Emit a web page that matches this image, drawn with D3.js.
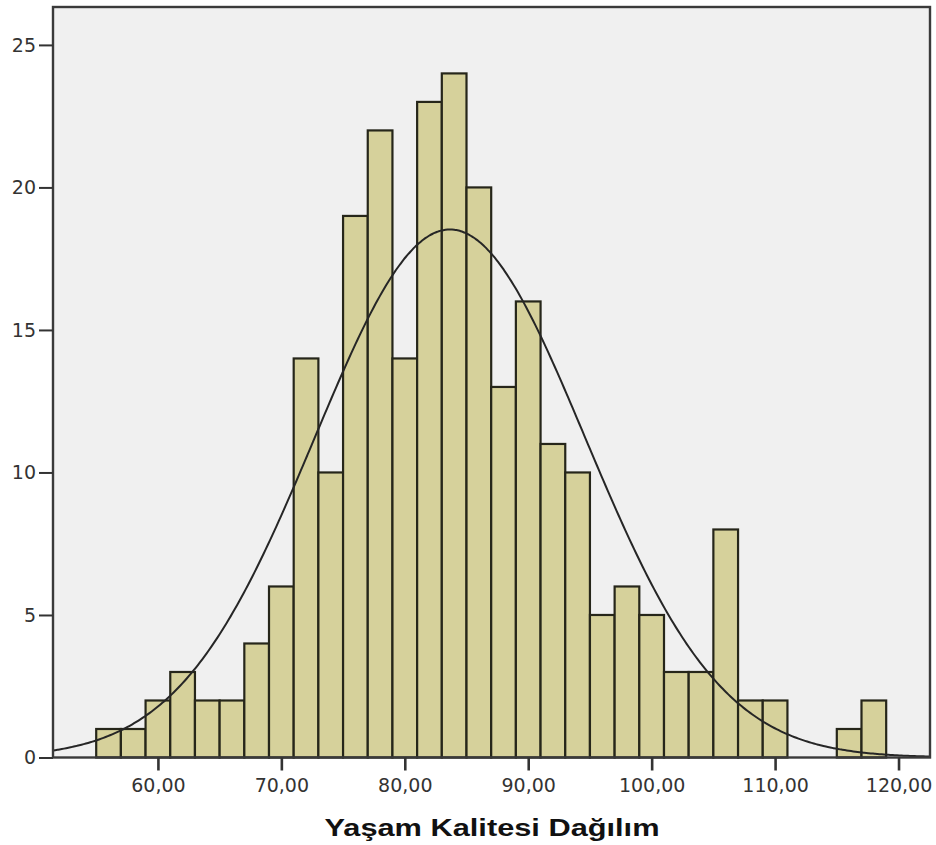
<!DOCTYPE html>
<html>
<head>
<meta charset="utf-8">
<script src="https://cdnjs.cloudflare.com/ajax/libs/d3/7.8.5/d3.min.js"></script>
<style>
  body { margin: 0; background: #ffffff; }
  svg { display: block; }
</style>
</head>
<body>
<div id="chart"></div>
<script>
// bin lower edges (width 2) and counts
var binStarts = [55, 57, 59, 61, 63, 65, 67, 69, 71, 73, 75, 77, 79, 81, 83, 85, 87, 89, 91, 93, 95, 97, 99, 101, 103, 105, 107, 109, 111, 113, 115, 117];
var counts = [1, 1, 2, 3, 2, 2, 4, 6, 14, 10, 19, 22, 14, 23, 24, 20, 13, 16, 11, 10, 5, 6, 5, 3, 3, 8, 2, 2, 0, 0, 1, 2];
var binWidth = 2;

var xTicks = [60, 70, 80, 90, 100, 110, 120];
var yTicks = [0, 5, 10, 15, 20, 25];

// fitted normal curve parameters
var curveMean = 83.66;
var curveSd = 10.94;

var axisTitle = "Yaşam Kalitesi Dağılım";

var svgWidth = 936;
var svgHeight = 845;

var plot = { left: 53, right: 930, top: 7, bottom: 757.5 };

var svg = d3.select("#chart")
.append("svg")
.attr("width", svgWidth)
.attr("height", svgHeight);

var xScale = d3.scaleLinear()
.domain([51.5, 122.55])
.range([plot.left, plot.right]);

var yScale = d3.scaleLinear()
.domain([0, 26.33])
.range([plot.bottom, plot.top]);

// background of the plot area
svg.append("rect")
.attr("x", plot.left)
.attr("y", plot.top)
.attr("width", plot.right - plot.left)
.attr("height", plot.bottom - plot.top)
.attr("fill", "#f0f0f0");

var bins = binStarts.map(function(b, i) {
    return { x0: b, x1: b + binWidth, count: counts[i] };
}).filter(d => d.count > 0);

svg.append("g")
.selectAll("rect")
.data(bins)
.enter()
.append("rect")
.attr("x", d => xScale(d.x0))
.attr("y", d => yScale(d.count))
.attr("width", d => xScale(d.x1) - xScale(d.x0))
.attr("height", d => yScale(0) - yScale(d.count))
.attr("fill", "#d6d19b")
.attr("stroke", "#26261a")
.attr("stroke-width", 2.2);

// normal curve scaled to counts
var total = d3.sum(counts);
var curvePoints = d3.range(0, 401).map(function(i) {
    var x = 51.5 + (122.55 - 51.5) * i / 400;
    var z = (x - curveMean) / curveSd;
    var y = total * binWidth / (curveSd * Math.sqrt(2 * Math.PI)) * Math.exp(-0.5 * z * z);
    return [x, y];
});

var line = d3.line()
.x(d => xScale(d[0]))
.y(d => yScale(d[1]))
.curve(d3.curveBasis);

svg.append("path")
.datum(curvePoints)
.attr("d", line)
.attr("fill", "none")
.attr("stroke", "#262626")
.attr("stroke-width", 2);

// frame
svg.append("rect")
.attr("x", plot.left)
.attr("y", plot.top)
.attr("width", plot.right - plot.left)
.attr("height", plot.bottom - plot.top)
.attr("fill", "none")
.attr("stroke", "#3a3a3a")
.attr("stroke-width", 2.4);

var leftAxis = d3.axisLeft(yScale)
.tickValues(yTicks)
.tickSize(14)
.tickPadding(3)
.tickFormat(d3.format("d"));

var yAxis = svg.append("g")
.attr("transform", `translate(${plot.left},0)`)
.call(leftAxis);

yAxis.select(".domain").remove();
yAxis.selectAll(".tick line")
.attr("stroke", "#333")
.attr("stroke-width", 2);
yAxis.selectAll("text")
.attr("font-family", "DejaVu Sans, sans-serif")
.attr("font-size", "19px")
.attr("fill", "#333");

var bottomAxis = d3.axisBottom(xScale)
.tickValues(xTicks)
.tickSize(13)
.tickPadding(8)
.tickFormat(d => d3.format(".2f")(d).replace(".", ","));

var xAxis = svg.append("g")
.attr("transform", `translate(0,${plot.bottom})`)
.call(bottomAxis);

xAxis.select(".domain").remove();
xAxis.selectAll(".tick line")
.attr("stroke", "#333")
.attr("stroke-width", 2.6);
xAxis.selectAll("text")
.attr("font-family", "DejaVu Sans, sans-serif")
.attr("font-size", "19px")
.attr("fill", "#333");

svg.append("text")
.attr("x", 492)
.attr("y", 836)
.attr("text-anchor", "middle")
.attr("font-family", "Liberation Sans, Arial, sans-serif")
.attr("font-weight", "bold")
.attr("font-size", "23px")
.attr("textLength", 335)
.attr("lengthAdjust", "spacingAndGlyphs")
.attr("fill", "#111")
.text(axisTitle);
</script>
</body>
</html>
